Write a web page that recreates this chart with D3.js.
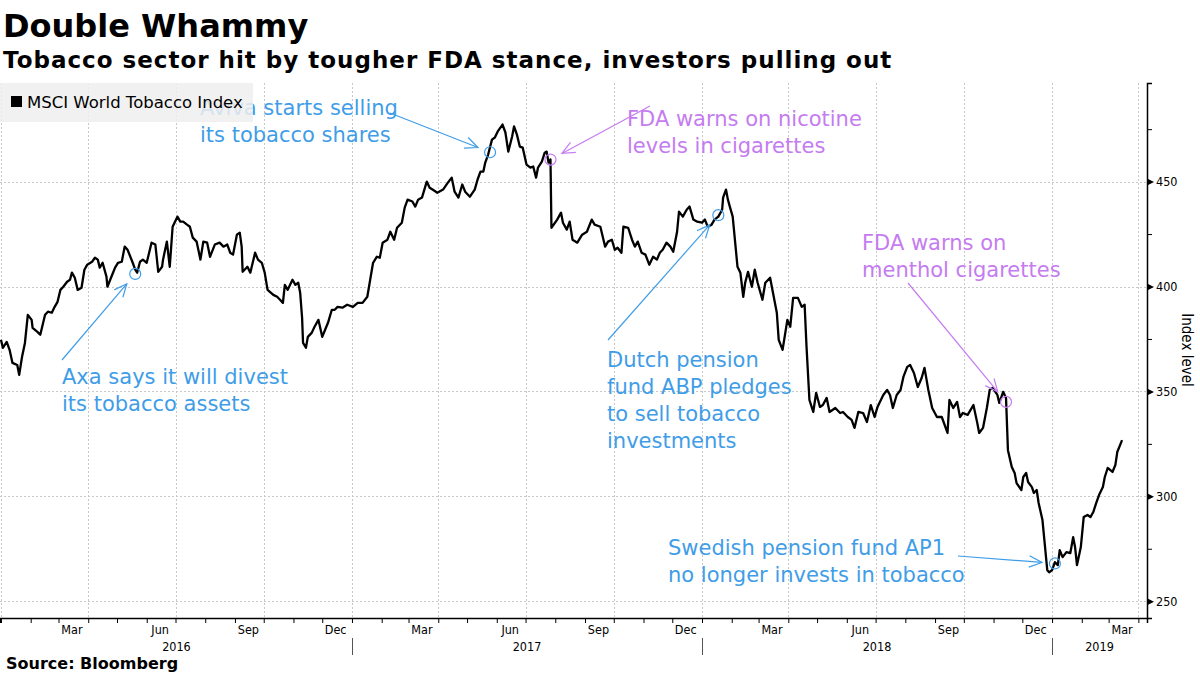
<!DOCTYPE html>
<html>
<head>
<meta charset="utf-8">
<script src="https://cdn.jsdelivr.net/npm/d3@7"></script>
<style>
  body { margin: 0; background: #fff; }
  svg { display: block; }
  .tick text { font-family: "DejaVu Sans Condensed", "Liberation Sans Narrow", "Liberation Sans", sans-serif; }
</style>
</head>
<body>
<svg id="chart" width="1200" height="675"></svg>
<script>
// MSCI World Tobacco Index (about two readings a week)
const dates = [
  "2016-01-01","2016-01-03","2016-01-07","2016-01-10","2016-01-13","2016-01-18","2016-01-20","2016-01-23","2016-01-26","2016-01-29",
  "2016-02-02","2016-02-03","2016-02-08","2016-02-11","2016-02-13","2016-02-16","2016-02-19","2016-02-23","2016-02-26","2016-02-29",
  "2016-03-03","2016-03-06","2016-03-10","2016-03-13","2016-03-15","2016-03-18","2016-03-21","2016-03-25","2016-03-28","2016-03-31",
  "2016-04-05","2016-04-08","2016-04-11","2016-04-13","2016-04-16","2016-04-20","2016-04-21","2016-04-26","2016-04-29",
  "2016-05-02","2016-05-06","2016-05-09","2016-05-12","2016-05-17","2016-05-20","2016-05-22","2016-05-25","2016-05-28",
  "2016-06-01","2016-06-06","2016-06-10","2016-06-13","2016-06-17","2016-06-18","2016-06-22","2016-06-25","2016-06-28",
  "2016-07-03","2016-07-06","2016-07-09","2016-07-13","2016-07-16","2016-07-19","2016-07-23","2016-07-27","2016-07-30",
  "2016-08-03","2016-08-06","2016-08-11","2016-08-16","2016-08-20","2016-08-24","2016-08-27","2016-08-30",
  "2016-09-03","2016-09-06","2016-09-08","2016-09-09","2016-09-14","2016-09-17","2016-09-22","2016-09-25","2016-09-29",
  "2016-10-02","2016-10-05","2016-10-11","2016-10-15","2016-10-18","2016-10-21","2016-10-23","2016-10-26","2016-10-31",
  "2016-11-03","2016-11-06","2016-11-08","2016-11-10","2016-11-11","2016-11-14","2016-11-16","2016-11-20","2016-11-23","2016-11-27",
  "2016-12-01","2016-12-04","2016-12-07","2016-12-11","2016-12-14","2016-12-17","2016-12-22","2016-12-27",
  "2017-01-02","2017-01-07","2017-01-12","2017-01-17","2017-01-20","2017-01-23","2017-01-27","2017-01-30",
  "2017-02-02","2017-02-07","2017-02-10","2017-02-14","2017-02-17","2017-02-22","2017-02-25","2017-02-28",
  "2017-03-05","2017-03-08","2017-03-11","2017-03-15","2017-03-20","2017-03-23","2017-03-26","2017-03-31",
  "2017-04-06","2017-04-11","2017-04-15","2017-04-18","2017-04-22","2017-04-26","2017-04-29",
  "2017-05-04","2017-05-09","2017-05-12","2017-05-15","2017-05-18","2017-05-20","2017-05-23","2017-05-27","2017-05-30",
  "2017-06-02","2017-06-07","2017-06-10","2017-06-13","2017-06-17","2017-06-19","2017-06-22","2017-06-25","2017-06-28",
  "2017-07-02","2017-07-06","2017-07-09","2017-07-12","2017-07-14","2017-07-18","2017-07-21","2017-07-23","2017-07-25","2017-07-27","2017-07-28",
  "2017-08-03","2017-08-07","2017-08-09","2017-08-13","2017-08-16","2017-08-19","2017-08-24","2017-08-29",
  "2017-09-03","2017-09-08","2017-09-11","2017-09-17","2017-09-22","2017-09-25","2017-09-29",
  "2017-10-02","2017-10-05","2017-10-09","2017-10-11","2017-10-16","2017-10-20","2017-10-23","2017-10-26","2017-10-30",
  "2017-11-03","2017-11-07","2017-11-11","2017-11-15","2017-11-18","2017-11-21","2017-11-25","2017-11-29",
  "2017-12-02","2017-12-06","2017-12-08","2017-12-12","2017-12-16","2017-12-19","2017-12-23","2017-12-27",
  "2018-01-01","2018-01-04","2018-01-07","2018-01-11","2018-01-14","2018-01-18","2018-01-22","2018-01-23","2018-01-26","2018-01-28","2018-01-30",
  "2018-02-02","2018-02-07","2018-02-10","2018-02-13","2018-02-15","2018-02-18","2018-02-22","2018-02-25","2018-02-28",
  "2018-03-05","2018-03-08","2018-03-13","2018-03-16","2018-03-20","2018-03-22","2018-03-26","2018-03-31",
  "2018-04-03","2018-04-06","2018-04-11","2018-04-15","2018-04-18","2018-04-20","2018-04-23","2018-04-27","2018-04-30",
  "2018-05-04","2018-05-07","2018-05-11","2018-05-14","2018-05-20","2018-05-25","2018-05-28",
  "2018-06-02","2018-06-06","2018-06-09","2018-06-13","2018-06-18","2018-06-22","2018-06-26","2018-06-30",
  "2018-07-03","2018-07-09","2018-07-13","2018-07-16","2018-07-19","2018-07-23","2018-07-27","2018-07-30",
  "2018-08-03","2018-08-06","2018-08-10","2018-08-14","2018-08-18","2018-08-21","2018-08-25","2018-08-29",
  "2018-09-03","2018-09-08","2018-09-14","2018-09-16","2018-09-20","2018-09-24","2018-09-27","2018-09-30",
  "2018-10-05","2018-10-11","2018-10-15","2018-10-17","2018-10-21","2018-10-25","2018-10-28","2018-10-31",
  "2018-11-05","2018-11-07","2018-11-11","2018-11-14","2018-11-16","2018-11-20","2018-11-23","2018-11-25","2018-11-30",
  "2018-12-02","2018-12-05","2018-12-07","2018-12-11","2018-12-13","2018-12-16","2018-12-18","2018-12-22","2018-12-24","2018-12-27","2018-12-29",
  "2019-01-01","2019-01-04","2019-01-07","2019-01-09","2019-01-12","2019-01-16","2019-01-20","2019-01-23","2019-01-25","2019-01-27","2019-01-31",
  "2019-02-03","2019-02-07","2019-02-10","2019-02-13","2019-02-16","2019-02-19","2019-02-23","2019-02-25","2019-02-28",
  "2019-03-05","2019-03-08","2019-03-10","2019-03-15"
];
const indexLevel = [
  374.6,370.8,373.6,369.8,363.6,362.6,357.9,366.5,373.1,386.5,
  384.1,380.3,378.4,377.0,380.8,386.5,388.0,387.5,390.3,392.7,
  398.4,399.9,402.3,403.2,406.6,404.2,398.4,399.4,408.0,410.4,
  411.8,413.7,412.8,409.0,411.3,404.7,399.9,405.6,409.0,
  411.3,411.8,419.0,417.5,411.8,408.0,406.6,411.8,412.8,
  411.3,420.9,420.0,407.0,409.4,412.8,421.4,409.4,428.5,
  433.3,430.9,430.9,429.5,428.5,423.3,421.4,412.8,421.4,
  420.9,414.2,420.0,420.9,419.0,420.0,416.1,415.2,
  424.7,425.7,419.0,407.0,409.4,406.6,416.1,412.8,411.3,
  406.6,398.4,396.0,395.1,393.7,392.2,400.8,398.4,403.2,
  400.8,401.8,397.0,385.1,373.1,370.8,376.0,377.9,380.8,384.1,
  376.0,379.4,382.7,388.9,388.9,390.3,389.9,391.3,
  390.3,392.2,392.2,395.1,403.2,411.3,414.2,413.7,
  420.9,422.3,426.1,422.3,428.0,430.4,437.6,441.4,
  440.5,438.1,441.4,442.4,450.0,447.1,446.2,444.7,
  446.2,449.5,451.9,445.2,442.4,448.6,445.2,
  442.8,446.2,451.0,454.8,454.8,459.1,462.9,470.0,471.0,
  473.9,477.2,473.4,464.3,471.5,476.3,472.4,466.7,466.2,
  458.1,456.7,457.2,451.9,456.7,459.5,463.8,464.3,459.1,460.5,428.0,
  431.9,435.2,430.4,427.1,430.9,422.3,420.9,424.7,
  426.1,431.9,429.5,428.5,419.0,421.4,422.3,
  417.5,418.5,416.1,428.5,428.0,422.3,419.0,421.4,416.1,
  415.2,410.4,414.2,412.8,416.1,417.5,420.9,419.0,
  416.6,426.1,435.7,433.3,436.6,438.1,431.9,430.9,
  430.4,431.9,428.5,429.5,431.9,433.3,436.6,442.4,446.2,441.4,438.1,
  433.3,409.4,406.6,395.1,401.8,407.0,399.9,408.0,401.8,
  393.7,401.8,404.2,397.0,387.5,374.6,369.8,384.1,
  380.8,394.6,394.6,390.3,391.3,371.2,345.9,340.2,349.3,
  342.6,343.5,346.9,340.2,342.1,339.7,340.2,
  337.8,336.4,332.6,340.2,339.7,335.4,343.5,337.8,
  342.6,348.3,350.7,348.3,342.1,348.3,350.7,356.9,
  361.7,362.6,358.8,352.1,356.4,361.2,350.7,342.1,
  337.8,337.8,330.2,345.9,342.1,345.0,337.8,339.7,
  338.8,343.5,335.0,330.2,332.6,342.1,350.7,351.7,
  348.3,344.5,349.8,346.9,322.0,314.0,311.1,306.3,303.0,
  309.2,311.1,306.8,304.4,301.6,303.0,296.8,288.7,279.1,264.8,263.8,
  264.8,268.6,267.2,274.3,271.0,273.4,272.9,280.5,275.8,267.2,275.8,
  290.1,291.1,290.1,292.5,296.8,300.6,304.4,309.2,313.5,
  311.6,314.9,321.1,326.8
];

const yTicks = [250, 300, 350, 400, 450];
const monthLabels = ["Mar", "Jun", "Sep", "Dec"];
const years = ["2016", "2017", "2018", "2019"];

// annotated events
const noteDates = ["2016-05-20", "2017-05-25", "2017-07-27", "2018-01-18", "2018-11-14", "2019-01-04"];
const noteValues = [406, 464, 460.5, 434, 345, 268];
const noteText = [
  ["Axa says it will divest", "its tobacco assets"],
  ["Aviva starts selling", "its tobacco shares"],
  ["FDA warns on nicotine", "levels in cigarettes"],
  ["Dutch pension", "fund ABP pledges", "to sell tobacco", "investments"],
  ["FDA warns on", "menthol cigarettes"],
  ["Swedish pension fund AP1", "no longer invests in tobacco"]
];

// layout for annotation labels: text anchor, arrow tail
const noteLayout = [
  { tx: 62, ty: 384, ax: 62, ay: 360, color: "#3f9de8" },
  { tx: 200, ty: 115, ax: 390, ay: 113, color: "#3f9de8" },
  { tx: 627, ty: 126, ax: 650, ay: 106, color: "#c57cf0" },
  { tx: 607, ty: 367, ax: 608, ay: 340, color: "#3f9de8" },
  { tx: 862, ty: 250, ax: 908, ay: 283, color: "#c57cf0" },
  { tx: 668, ty: 555, ax: 958, ay: 556, color: "#3f9de8" }
];

const parse = d3.timeParse("%Y-%m-%d");
const data = dates.map((d, i) => ({ date: parse(d), value: indexLevel[i] }));

const svg = d3.select("#chart");
const plot = { left: 0, right: 1147, top: 83, bottom: 618 };

const x = d3.scaleTime()
  .domain([parse("2015-12-31"), parse("2019-04-10")])
  .range([plot.left, plot.right]);
const y = d3.scaleLinear()
  .domain([242, 497])
  .range([plot.bottom, plot.top]);

svg.append("rect").attr("width", 1200).attr("height", 675).attr("fill", "#fff");

// titles
svg.append("text")
  .attr("x", 3).attr("y", 37)
  .style("font-family", "DejaVu Sans, sans-serif")
  .style("font-weight", "bold")
  .style("font-size", "32px")
  .text("Double Whammy");
svg.append("text")
  .attr("x", 3).attr("y", 68)
  .style("font-family", "DejaVu Sans, sans-serif")
  .style("font-weight", "bold")
  .style("font-size", "23px")
  .style("letter-spacing", "1px")
  .text("Tobacco sector hit by tougher FDA stance, investors pulling out");

// gridlines
const grid = svg.append("g").attr("stroke", "#c8c8c8").attr("stroke-dasharray", "2,2").attr("stroke-width", 1);
grid.selectAll(".hg")
  .data(yTicks)
  .enter().append("line")
  .attr("x1", plot.left).attr("x2", plot.right)
  .attr("y1", d => Math.round(y(d)) + 0.5).attr("y2", d => Math.round(y(d)) + 0.5);
grid.selectAll(".vg")
  .data(d3.timeMonth.every(3).range(x.domain()[0], x.domain()[1]))
  .enter().append("line")
  .attr("x1", d => Math.round(x(d)) + 0.5).attr("x2", d => Math.round(x(d)) + 0.5)
  .attr("y1", plot.top).attr("y2", plot.bottom);

// bottom axis: month ticks
const xAxis = d3.axisBottom(x)
  .ticks(d3.timeMonth.every(1))
  .tickSize(5)
  .tickFormat("");
const gx = svg.append("g")
  .attr("transform", `translate(0, ${plot.bottom})`)
  .call(xAxis);
gx.select(".domain").attr("stroke", "#000").attr("stroke-width", 1.5);
gx.selectAll(".tick line").attr("stroke", "#000");

// month labels at mid-month
const fmtMonth = d3.timeFormat("%b");
const midMonths = d3.timeMonth.range(x.domain()[0], x.domain()[1])
  .filter(d => monthLabels.includes(fmtMonth(d)));
svg.selectAll(".mlabel")
  .data(midMonths)
  .enter().append("text")
  .attr("x", d => x(d3.timeDay.offset(d, 14)))
  .attr("y", plot.bottom + 16)
  .attr("text-anchor", "middle")
  .style("font-family", "DejaVu Sans Condensed, Liberation Sans Narrow, Liberation Sans, sans-serif")
  .style("font-size", "12.5px")
  .text(d => fmtMonth(d));

// year labels and separators
svg.selectAll(".ylabel")
  .data(years)
  .enter().append("text")
  .attr("x", d => {
    const a = Math.max(x(parse(d + "-01-01")), plot.left);
    const b = Math.min(x(parse((+d + 1) + "-01-01")), plot.right);
    return (a + b) / 2;
  })
  .attr("y", plot.bottom + 33)
  .attr("text-anchor", "middle")
  .style("font-family", "DejaVu Sans Condensed, Liberation Sans Narrow, Liberation Sans, sans-serif")
  .style("font-size", "12.5px")
  .text(d => d);
svg.selectAll(".ysep")
  .data(years.slice(1))
  .enter().append("line")
  .attr("x1", d => Math.round(x(parse(d + "-01-01"))) + 0.5)
  .attr("x2", d => Math.round(x(parse(d + "-01-01"))) + 0.5)
  .attr("y1", plot.bottom + 20).attr("y2", plot.bottom + 37)
  .attr("stroke", "#555");

// right axis
const yAxis = d3.axisRight(y)
  .tickValues(d3.range(250, 500, 25))
  .tickSize(5)
  .tickFormat(d => yTicks.includes(d) ? d : "");
const gy = svg.append("g")
  .attr("transform", `translate(${plot.right}, 0)`)
  .call(yAxis);
gy.select(".domain").attr("stroke", "#000").attr("stroke-width", 1.5);
gy.selectAll(".tick line").attr("stroke", "#000");
gy.selectAll(".tick text")
  .attr("x", 9)
  .style("font-size", "12.5px")
  .attr("fill", "#000");
gy.selectAll(".tick")
  .filter(d => yTicks.includes(d))
  .append("path")
  .attr("d", "M0,-3.5L7,0L0,3.5Z")
  .attr("fill", "#000");

svg.append("text")
  .attr("transform", "translate(1182, 350) rotate(90)")
  .attr("text-anchor", "middle")
  .style("font-family", "DejaVu Sans Condensed, Liberation Sans Narrow, Liberation Sans, sans-serif")
  .style("font-size", "15px")
  .text("Index level");

// annotation text (under the legend box)
const notes = svg.append("g");
noteText.forEach((lines, i) => {
  const L = noteLayout[i];
  notes.append("text")
    .attr("x", L.tx).attr("y", L.ty)
    .attr("fill", L.color)
    .style("font-family", "DejaVu Sans, sans-serif")
    .style("font-size", "21px")
    .selectAll("tspan")
    .data(lines)
    .enter().append("tspan")
    .attr("x", L.tx)
    .attr("dy", (d, j) => j === 0 ? 0 : 27)
    .text(d => d);
});

// legend
svg.append("rect")
  .attr("x", 0).attr("y", 83).attr("width", 253).attr("height", 39)
  .attr("fill", "#efefef").attr("fill-opacity", 0.85);
svg.append("rect")
  .attr("x", 11).attr("y", 96).attr("width", 11).attr("height", 11)
  .attr("fill", "#000");
svg.append("text")
  .attr("x", 27).attr("y", 108)
  .style("font-family", "DejaVu Sans, sans-serif")
  .style("font-size", "16.5px")
  .text("MSCI World Tobacco Index");

// the index line
const line = d3.line()
  .x(d => x(d.date))
  .y(d => y(d.value));
svg.append("path")
  .datum(data)
  .attr("fill", "none")
  .attr("stroke", "#000")
  .attr("stroke-width", 2.3)
  .attr("stroke-linejoin", "round")
  .attr("d", line);

// annotation arrows and circles
noteDates.forEach((d, i) => {
  const L = noteLayout[i];
  const cx = x(parse(d)), cy = y(noteValues[i]);
  const dx = cx - L.ax, dy = cy - L.ay;
  const len = Math.hypot(dx, dy);
  const ux = dx / len, uy = dy / len;
  const ex = cx - ux * 13, ey = cy - uy * 13;
  const g = svg.append("g").attr("stroke", L.color).attr("fill", "none").attr("stroke-width", 1.2);
  g.append("line").attr("x1", L.ax).attr("y1", L.ay).attr("x2", ex).attr("y2", ey);
  const ang = Math.atan2(uy, ux);
  const head = 14, spread = 0.42;
  g.append("path")
    .attr("d", `M${ex - head * Math.cos(ang - spread)},${ey - head * Math.sin(ang - spread)}` +
      `L${ex},${ey}L${ex - head * Math.cos(ang + spread)},${ey - head * Math.sin(ang + spread)}`);
  g.append("circle").attr("cx", cx).attr("cy", cy).attr("r", 5.5);
});

// source
svg.append("text")
  .attr("x", 6).attr("y", 669)
  .style("font-family", "DejaVu Sans, sans-serif")
  .style("font-weight", "bold")
  .style("font-size", "16px")
  .text("Source: Bloomberg");
</script>
</body>
</html>
